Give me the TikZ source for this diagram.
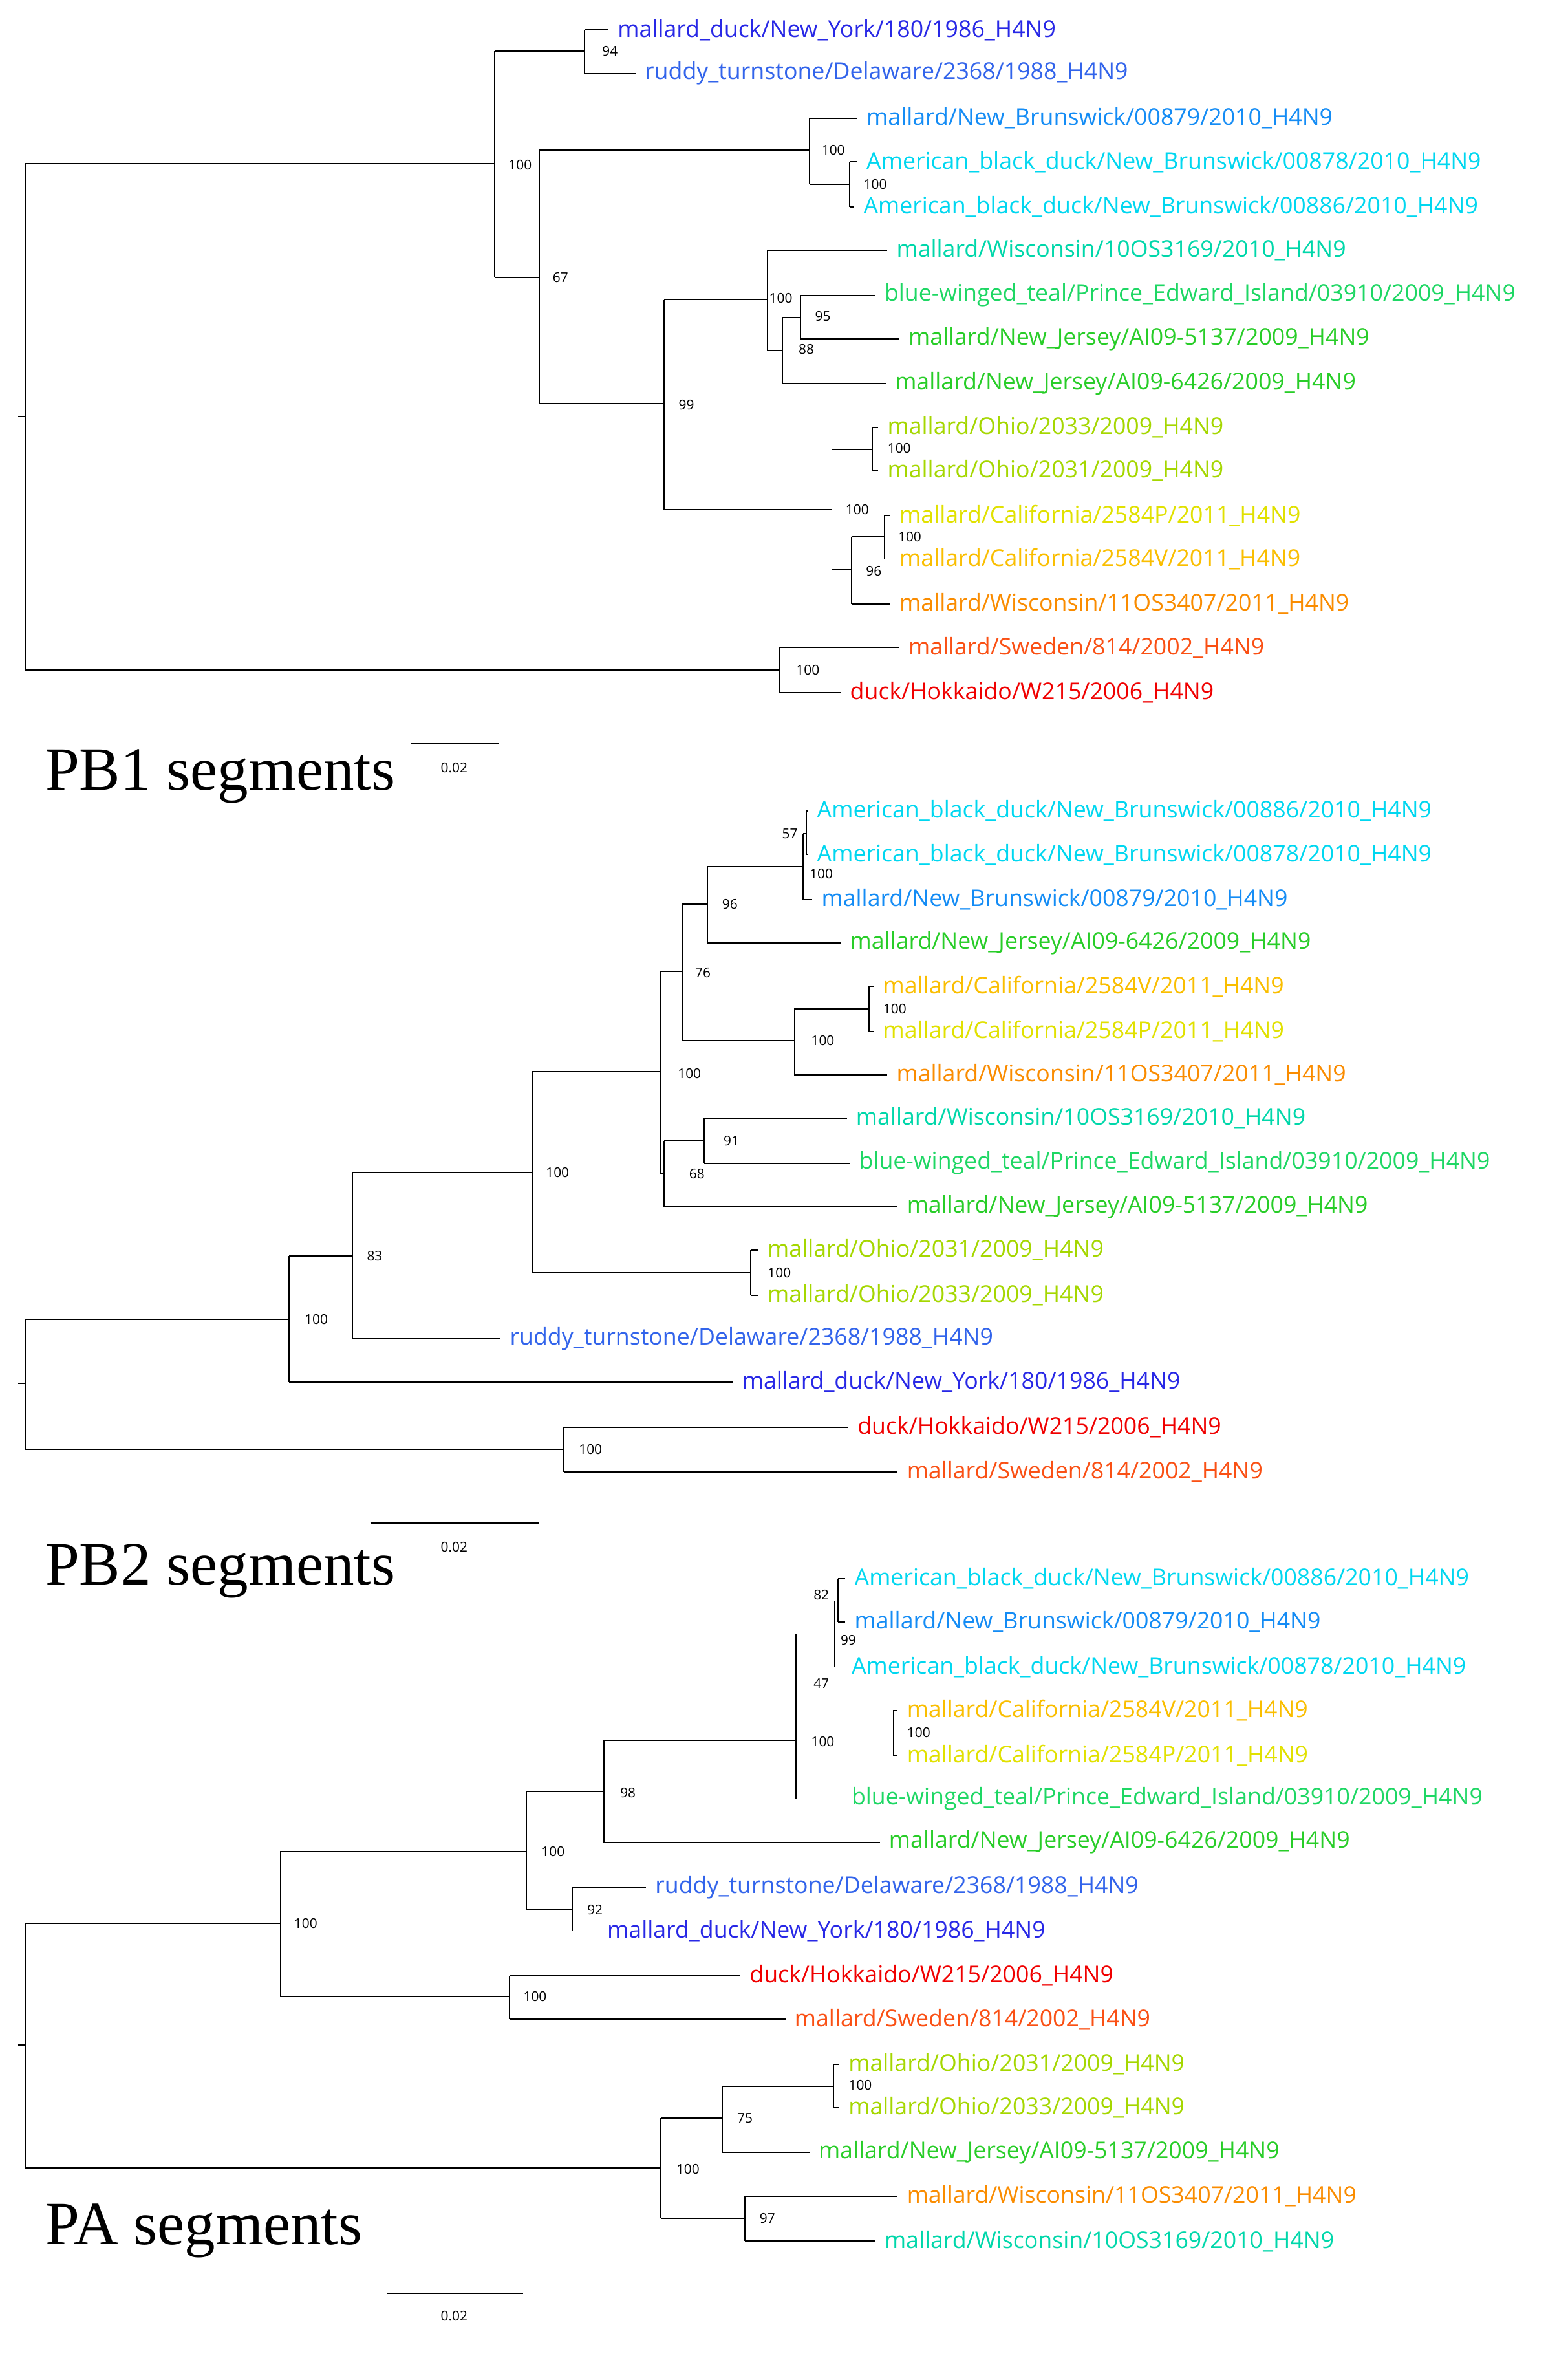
\documentclass[tikz,border=0pt]{standalone}
\usepackage{fontspec}
\setmainfont{Open Sans}
\newfontfamily\titlefont{Liberation Serif}
\definecolor{cNY}{RGB}{40,40,230}
\definecolor{cRT}{RGB}{50,100,235}
\definecolor{cNB}{RGB}{20,140,245}
\definecolor{cAB}{RGB}{0,215,240}
\definecolor{cWI}{RGB}{0,215,170}
\definecolor{cBT}{RGB}{30,215,100}
\definecolor{cNJ}{RGB}{40,205,40}
\definecolor{cOH}{RGB}{165,215,0}
\definecolor{cCP}{RGB}{225,225,0}
\definecolor{cCV}{RGB}{250,190,0}
\definecolor{cWO}{RGB}{250,140,0}
\definecolor{cSW}{RGB}{250,80,20}
\definecolor{cHK}{RGB}{240,0,0}
\tikzset{br/.style={draw=black,line width=0.8pt},
 lab/.style={anchor=west,inner sep=0pt,font=\fontsize{15.4}{18}\selectfont},
 bs/.style={anchor=center,inner sep=0pt,font=\fontsize{9}{11}\selectfont},
 ttl/.style={anchor=west,inner sep=0pt,font=\titlefont\fontsize{41}{46}\selectfont}}
\newcommand\Hb[3]{\draw[br] (#1,#3) -- (#2,#3);}
\newcommand\Vb[3]{\draw[br] (#1,#2) -- (#1,#3);}
\newcommand\Lf[6]{\draw[br] (#2,#4) -- (#3,#4); \node[lab,text=#5] (#1) at (#3+6,#4) {#6};}
\newcommand\Bs[4]{\node[bs] (#1) at (#2,#3) {#4};}
\begin{document}
\begin{tikzpicture}[x=1pt,y=-1pt]
\useasboundingbox[fill=white] (0,0) rectangle (1046,1573);
% ===== PB1 =====
\Vb{17}{109}{447}\draw[br](12,278)--(17,278);
\Hb{17}{330}{109}\Hb{17}{520}{447}
\Vb{330}{34}{185}
\Hb{330}{390}{34}\Vb{390}{20}{49}
\Lf{a1}{390}{406}{20}{cNY}{mallard\_duck/New\_York/180/1986\_H4N9}
\Lf{a2}{390}{424}{49}{cRT}{ruddy\_turnstone/Delaware/2368/1988\_H4N9}
\Bs{b1}{407}{34}{94}
\Hb{330}{360}{185}\Bs{b2}{374}{185}{67}
\Vb{360}{100}{269}\Bs{b3}{347}{110}{100}
\Hb{360}{540}{100}\Vb{540}{79}{123}
\Lf{a3}{540}{572}{79}{cNB}{mallard/New\_Brunswick/00879/2010\_H4N9}
\Hb{540}{567}{123}\Vb{567}{108}{138}\Bs{b4}{556}{100}{100}\Bs{b5}{584}{123}{100}
\Lf{a4}{567}{572}{108}{cAB}{American\_black\_duck/New\_Brunswick/00878/2010\_H4N9}
\Lf{a5}{567}{570}{138}{cAB}{American\_black\_duck/New\_Brunswick/00886/2010\_H4N9}
\Hb{360}{443}{269}\Bs{b6}{458}{270}{99}\Vb{443}{200}{340}
\Hb{443}{512}{200}\Vb{512}{167}{234}\Bs{b7}{521}{199}{100}
\Lf{a6}{512}{592}{167}{cWI}{mallard/Wisconsin/10OS3169/2010\_H4N9}
\Hb{512}{522}{234}\Vb{522}{212}{256}\Bs{b8}{538}{233}{88}
\Hb{522}{534}{212}\Vb{534}{197}{226}\Bs{b9}{549}{211}{95}
\Lf{a7}{534}{584}{197}{cBT}{blue-winged\_teal/Prince\_Edward\_Island/03910/2009\_H4N9}
\Lf{a8}{534}{600}{226}{cNJ}{mallard/New\_Jersey/AI09-5137/2009\_H4N9}
\Lf{a9}{522}{591}{256}{cNJ}{mallard/New\_Jersey/AI09-6426/2009\_H4N9}
\Hb{443}{555}{340}\Vb{555}{300}{380}\Bs{b10}{572}{340}{100}
\Hb{555}{582}{300}\Vb{582}{285}{314}\Bs{b11}{600}{299}{100}
\Lf{a10}{582}{586}{285}{cOH}{mallard/Ohio/2033/2009\_H4N9}
\Lf{a11}{582}{586}{314}{cOH}{mallard/Ohio/2031/2009\_H4N9}
\Hb{555}{568}{380}\Vb{568}{358}{403}\Bs{b12}{583}{381}{96}
\Hb{568}{590}{358}\Vb{590}{344}{373}\Bs{b13}{607}{358}{100}
\Lf{a12}{590}{594}{344}{cCP}{mallard/California/2584P/2011\_H4N9}
\Lf{a13}{590}{594}{373}{cCV}{mallard/California/2584V/2011\_H4N9}
\Lf{a14}{568}{594}{403}{cWO}{mallard/Wisconsin/11OS3407/2011\_H4N9}
\Vb{520}{432}{462}\Bs{b14}{539}{447}{100}
\Lf{a15}{520}{600}{432}{cSW}{mallard/Sweden/814/2002\_H4N9}
\Lf{a16}{520}{561}{462}{cHK}{duck/Hokkaido/W215/2006\_H4N9}
\draw[br] (274,496) -- (333,496);
\Bs{s1}{303}{512}{0.02}
\node[ttl] (t1) at (30,518) {PB1 segments};
% ===== PB2 =====
\Vb{17}{880}{967}\draw[br](12,923)--(17,923);
\Hb{17}{193}{880}\Bs{c1}{211}{880}{100}\Vb{193}{838}{922}
\Hb{17}{376}{967}\Vb{376}{952}{982}\Bs{c2}{394}{967}{100}
\Lf{d15}{376}{566}{952}{cHK}{duck/Hokkaido/W215/2006\_H4N9}
\Lf{d16}{376}{599}{982}{cSW}{mallard/Sweden/814/2002\_H4N9}
\Hb{193}{235}{838}\Bs{c3}{250}{838}{83}\Vb{235}{782}{893}
\Lf{d14}{193}{489}{922}{cNY}{mallard\_duck/New\_York/180/1986\_H4N9}
\Lf{d13}{235}{334}{893}{cRT}{ruddy\_turnstone/Delaware/2368/1988\_H4N9}
\Hb{235}{355}{782}\Bs{c4}{372}{782}{100}\Vb{355}{715}{849}
\Hb{355}{501}{849}\Vb{501}{834}{864}\Bs{c5}{520}{849}{100}
\Lf{d11}{501}{506}{834}{cOH}{mallard/Ohio/2031/2009\_H4N9}
\Lf{d12}{501}{506}{864}{cOH}{mallard/Ohio/2033/2009\_H4N9}
\Hb{355}{441}{715}\Bs{c6}{460}{716}{100}\Vb{441}{648}{783}
\Hb{441}{443}{783}\Vb{443}{761}{805}\Bs{c7}{465}{783}{68}
\Hb{443}{470}{761}\Vb{470}{746}{776}\Bs{c8}{488}{761}{91}
\Lf{d8}{470}{565}{746}{cWI}{mallard/Wisconsin/10OS3169/2010\_H4N9}
\Lf{d9}{470}{567}{776}{cBT}{blue-winged\_teal/Prince\_Edward\_Island/03910/2009\_H4N9}
\Lf{d10}{443}{599}{805}{cNJ}{mallard/New\_Jersey/AI09-5137/2009\_H4N9}
\Hb{441}{455}{648}\Bs{c9}{469}{649}{76}\Vb{455}{603}{694}
\Hb{455}{472}{603}\Vb{472}{578}{629}\Bs{c10}{487}{603}{96}
\Hb{472}{536}{578}\Vb{536}{556}{600}\Bs{c11}{548}{583}{100}
\Hb{536}{538}{556}\Vb{538}{541}{570}\Bs{c12}{527}{556}{57}
\Lf{d1}{538}{539}{541}{cAB}{American\_black\_duck/New\_Brunswick/00886/2010\_H4N9}
\Lf{d2}{538}{539}{570}{cAB}{American\_black\_duck/New\_Brunswick/00878/2010\_H4N9}
\Lf{d3}{536}{542}{600}{cNB}{mallard/New\_Brunswick/00879/2010\_H4N9}
\Lf{d4}{472}{561}{629}{cNJ}{mallard/New\_Jersey/AI09-6426/2009\_H4N9}
\Hb{455}{530}{694}\Vb{530}{673}{717}\Bs{c13}{549}{694}{100}
\Hb{530}{580}{673}\Vb{580}{658}{688}\Bs{c14}{597}{673}{100}
\Lf{d5}{580}{583}{658}{cCV}{mallard/California/2584V/2011\_H4N9}
\Lf{d6}{580}{583}{688}{cCP}{mallard/California/2584P/2011\_H4N9}
\Lf{d7}{530}{592}{717}{cWO}{mallard/Wisconsin/11OS3407/2011\_H4N9}
\draw[br] (247,1016) -- (360,1016);
\Bs{s2}{303}{1032}{0.02}
\node[ttl] (t2) at (30,1048) {PB2 segments};
% ===== PA =====
\Vb{17}{1283}{1446}\draw[br](12,1364)--(17,1364);
\Hb{17}{187}{1283}\Bs{e1}{204}{1283}{100}\Vb{187}{1235}{1332}
\Hb{17}{441}{1446}\Bs{e2}{459}{1447}{100}\Vb{441}{1413}{1480}
\Hb{187}{340}{1332}\Vb{340}{1318}{1347}\Bs{e3}{357}{1332}{100}
\Lf{f10}{340}{494}{1318}{cHK}{duck/Hokkaido/W215/2006\_H4N9}
\Lf{f11}{340}{524}{1347}{cSW}{mallard/Sweden/814/2002\_H4N9}
\Hb{187}{351}{1235}\Bs{e4}{369}{1235}{100}\Vb{351}{1195}{1274}
\Hb{351}{382}{1274}\Vb{382}{1259}{1288}\Bs{e5}{397}{1274}{92}
\Lf{f8}{382}{431}{1259}{cRT}{ruddy\_turnstone/Delaware/2368/1988\_H4N9}
\Lf{f9}{382}{399}{1288}{cNY}{mallard\_duck/New\_York/180/1986\_H4N9}
\Hb{351}{403}{1195}\Bs{e6}{419}{1196}{98}\Vb{403}{1161}{1229}
\Lf{f7}{403}{587}{1229}{cNJ}{mallard/New\_Jersey/AI09-6426/2009\_H4N9}
\Hb{403}{531}{1161}\Vb{531}{1090}{1200}
\Hb{531}{557}{1090}\Bs{e7}{548}{1123}{47}\Vb{557}{1068}{1112}
\Hb{557}{559}{1068}\Vb{559}{1053}{1082}\Bs{e8}{548}{1064}{82}\Bs{e9}{566}{1094}{99}
\Lf{f1}{559}{564}{1053}{cAB}{American\_black\_duck/New\_Brunswick/00886/2010\_H4N9}
\Lf{f2}{559}{564}{1082}{cNB}{mallard/New\_Brunswick/00879/2010\_H4N9}
\Lf{f3}{557}{562}{1112}{cAB}{American\_black\_duck/New\_Brunswick/00878/2010\_H4N9}
\Hb{531}{596}{1156}\Vb{596}{1141}{1171}\Bs{e10}{549}{1162}{100}\Bs{e11}{613}{1156}{100}
\Lf{f4}{596}{599}{1141}{cCV}{mallard/California/2584V/2011\_H4N9}
\Lf{f5}{596}{599}{1171}{cCP}{mallard/California/2584P/2011\_H4N9}
\Lf{f6}{531}{562}{1200}{cBT}{blue-winged\_teal/Prince\_Edward\_Island/03910/2009\_H4N9}
\Hb{441}{482}{1413}\Vb{482}{1392}{1436}\Bs{e12}{497}{1413}{75}
\Hb{482}{556}{1392}\Vb{556}{1377}{1406}\Bs{e13}{574}{1391}{100}
\Lf{f12}{556}{560}{1377}{cOH}{mallard/Ohio/2031/2009\_H4N9}
\Lf{f13}{556}{560}{1406}{cOH}{mallard/Ohio/2033/2009\_H4N9}
\Lf{f14}{482}{540}{1436}{cNJ}{mallard/New\_Jersey/AI09-5137/2009\_H4N9}
\Hb{441}{497}{1480}\Vb{497}{1465}{1495}\Bs{e14}{512}{1480}{97}
\Lf{f15}{497}{599}{1465}{cWO}{mallard/Wisconsin/11OS3407/2011\_H4N9}
\Lf{f16}{497}{584}{1495}{cWI}{mallard/Wisconsin/10OS3169/2010\_H4N9}
\draw[br] (258,1530) -- (349,1530);
\Bs{s3}{303}{1545}{0.02}
\node[ttl] (t3) at (30,1488) {PA segments};
\end{tikzpicture}
\end{document}
